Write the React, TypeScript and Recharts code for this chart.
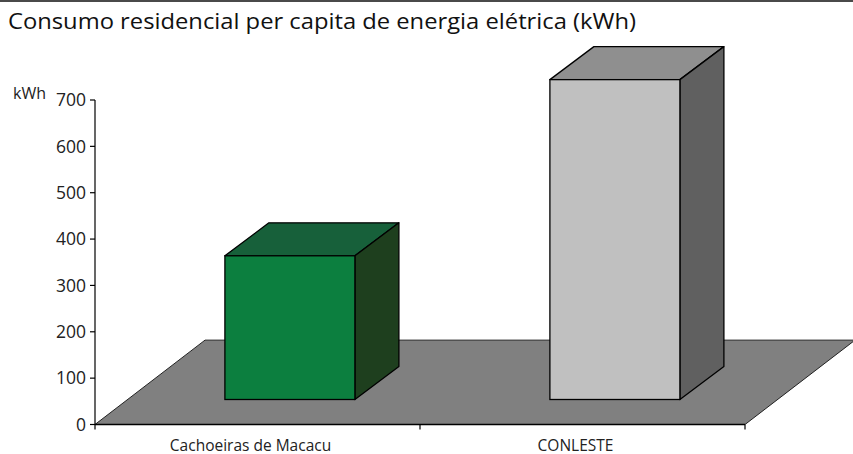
import React from "react";
import { BarChart, Bar, XAxis, YAxis, ReferenceArea } from "recharts";

const categories = ["Cachoeiras de Macacu", "CONLESTE"];
const consumo = [310, 690];
const yTicks = [0, 100, 200, 300, 400, 500, 600, 700];

const data = categories.map((name, i) => ({ name, value: consumo[i] }));

const palettes = [
  { front: "#0c7f3f", top: "#17603a", side: "#1e3f1e" },
  { front: "#c0c0c0", top: "#8f8f8f", side: "#606060" },
];

const FONT = "'Open Sans', sans-serif";
const DEPTH_X = 44;
const DEPTH_Y = -33;
const SHIFT_X = 32.4;
const SHIFT_Y = -25;
const FLOOR_DX = 110;

const Bar3D = (props: any) => {
  const { x, y, width, height, index } = props;
  const p = palettes[index % palettes.length];
  const x0 = x + SHIFT_X;
  const y0 = y + SHIFT_Y;
  const w = width;
  const h = height;
  const top = `${x0},${y0} ${x0 + DEPTH_X},${y0 + DEPTH_Y} ${x0 + w + DEPTH_X},${y0 + DEPTH_Y} ${x0 + w},${y0}`;
  const side = `${x0 + w},${y0} ${x0 + w + DEPTH_X},${y0 + DEPTH_Y} ${x0 + w + DEPTH_X},${y0 + h + DEPTH_Y} ${x0 + w},${y0 + h}`;
  return (
    <g>
      <polygon points={top} fill={p.top} stroke="#000" strokeWidth={1.3} strokeLinejoin="round" />
      <polygon points={side} fill={p.side} stroke="#000" strokeWidth={1.3} strokeLinejoin="round" />
      <rect x={x0} y={y0} width={w} height={h} fill={p.front} stroke="#000" strokeWidth={1.3} />
    </g>
  );
};

const Floor = (props: any) => {
  const { x, y, width, height } = props;
  const pts = `${x},${y + height} ${x + FLOOR_DX},${y} ${x + width + FLOOR_DX},${y} ${x + width},${y + height}`;
  return <polygon points={pts} fill="#808080" stroke="#222" strokeWidth={1} />;
};

const XTick = (props: any) => {
  const { x, y, payload, index } = props;
  const half = 162.5;
  return (
    <g>
      <line x1={x - half} y1={y - 8} x2={x - half} y2={y - 3} stroke="#000" strokeWidth={1.2} />
      {index === categories.length - 1 && (
        <line x1={x + half} y1={y - 8} x2={x + half} y2={y - 3} stroke="#000" strokeWidth={1.2} />
      )}
      <text x={x - 7} y={y + 18} textAnchor="middle" fontFamily={FONT} fontSize={15.5} fill="#222">
        {payload.value}
      </text>
    </g>
  );
};

export default function App() {
  return (
    <div style={{ position: "absolute", left: 0, top: 0, width: 853, height: 454, background: "#fff" }}>
      <svg width={853} height={40} style={{ position: "absolute", left: 0, top: 0 }}>
        <rect x={0} y={0} width={853} height={2} fill="#4a4a4a" />
        <text x={8} y={29} fontFamily={FONT} fontSize={22.5} fill="#111" textLength={628} lengthAdjust="spacingAndGlyphs">
          Consumo residencial per capita de energia elétrica (kWh)
        </text>
      </svg>
      <svg width={60} height={30} style={{ position: "absolute", left: 0, top: 80 }}>
        <text x={13} y={19} fontFamily={FONT} fontSize={16} fill="#222">
          kWh
        </text>
      </svg>
      <div style={{ position: "absolute", left: 0, top: 0 }}>
        <BarChart
          width={853}
          height={454}
          data={data}
          margin={{ top: 100, right: 108, left: 0, bottom: 0 }}
          barCategoryGap="30%"
          style={{ overflow: "visible" }}
        >
          <ReferenceArea y1={0} y2={182} shape={<Floor />} ifOverflow="visible" />
          <XAxis
            dataKey="name"
            height={29.5}
            stroke="#000"
            strokeWidth={1.5}
            tickLine={false}
            tick={<XTick />}
            interval={0}
          />
          <YAxis
            width={95}
            domain={[0, 700]}
            ticks={yTicks}
            stroke="#000"
            strokeWidth={1.2}
            tickSize={5}
            tick={{ fontFamily: FONT, fontSize: 17.5, fill: "#222", dx: -2 }}
            interval={0}
          />
          <Bar dataKey="value" shape={<Bar3D />} isAnimationActive={false} />
        </BarChart>
      </div>
    </div>
  );
}
